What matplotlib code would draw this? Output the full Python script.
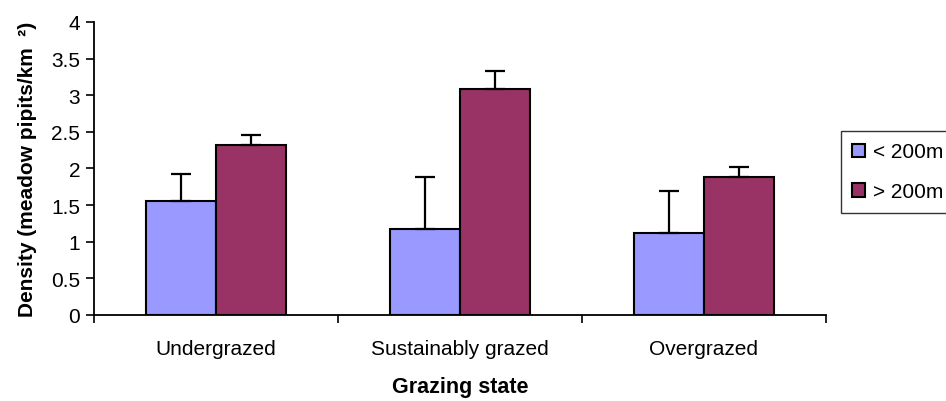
import matplotlib.pyplot as plt
import numpy as np

plt.rcParams['font.family'] = ['Liberation Sans', 'DejaVu Sans']

# Dados
estados = ["Undergrazed", "Sustainably grazed", "Overgrazed"]
abaixo_200 = [1.55, 1.17, 1.12]
abaixo_200_err = [0.38, 0.71, 0.57]
acima_200 = [2.32, 3.09, 1.88]
acima_200_err = [0.13, 0.24, 0.14]
y_ticks = [0, 0.5, 1, 1.5, 2, 2.5, 3, 3.5, 4]

fig = plt.figure(figsize=(9.46, 4.02), dpi=100)
ax = fig.add_axes([0.0994, 0.214, 0.7733, 0.729])

x = np.arange(len(estados))
w = 0.287

ax.bar(x - w / 2, abaixo_200, w, color='#9999FF', edgecolor='black', linewidth=1.5,
       yerr=[np.zeros(3), abaixo_200_err], capsize=7,
       error_kw=dict(elinewidth=1.6, capthick=1.6, ecolor='black'), label='< 200m')
ax.bar(x + w / 2, acima_200, w, color='#993366', edgecolor='black', linewidth=1.5,
       yerr=[np.zeros(3), acima_200_err], capsize=7,
       error_kw=dict(elinewidth=1.6, capthick=1.6, ecolor='black'), label='> 200m')

ax.set_xlim(-0.5, len(estados) - 0.5)
ax.set_ylim(0, 4)
ax.set_yticks(y_ticks)
ax.set_yticklabels([f"{v:g}" for v in y_ticks], fontsize=15)

# Rótulos no centro, marcas nas divisões
ax.set_xticks(x)
ax.set_xticklabels(estados, fontsize=15)
ax.tick_params(axis='x', which='major', length=0, pad=17)
ax.set_xticks(np.arange(-0.5, len(estados)), minor=True)
ax.tick_params(axis='x', which='minor', length=6, width=1.2, direction='out')
ax.tick_params(axis='y', length=6, width=1.2, direction='out', pad=4)

for s in ['top', 'right']:
    ax.spines[s].set_visible(False)
for s in ['left', 'bottom']:
    ax.spines[s].set_linewidth(1.3)

ax.set_xlabel("Grazing state", fontsize=15.5, fontweight='bold', labelpad=13)
ax.set_ylabel("Density (meadow pipits/km  ²)", fontsize=15, fontweight='bold', labelpad=10)

fig.legend(loc='upper left', bbox_to_anchor=(841 / 946, 1 - 132 / 402), fontsize=15,
           frameon=True, fancybox=False, edgecolor='black', handlelength=0.6,
           handleheight=0.6, handletextpad=0.4, labelspacing=1.0, borderpad=0.55,
           borderaxespad=0)

plt.savefig("out.png", dpi=100)
